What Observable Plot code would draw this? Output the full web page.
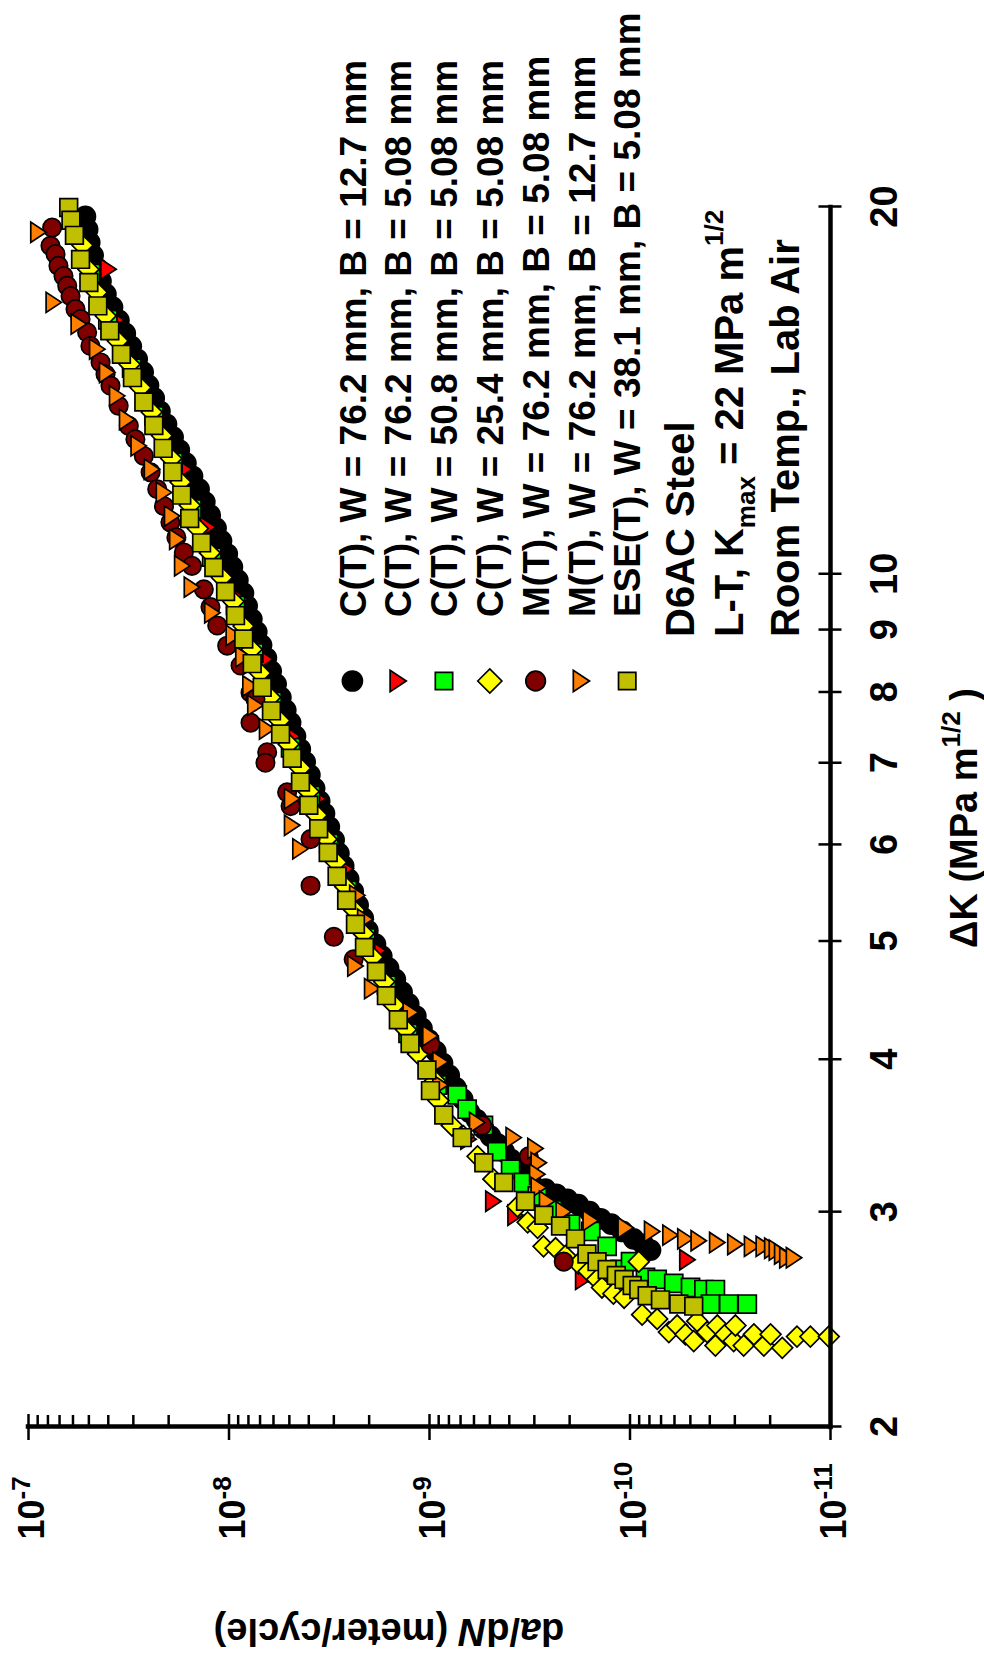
<!DOCTYPE html>
<html>
<head>
<meta charset="utf-8">
<script src="https://cdn.jsdelivr.net/npm/d3@7"></script>
<script src="https://cdn.jsdelivr.net/npm/@observablehq/plot@0.6"></script>
<style>
  html, body { margin: 0; padding: 0; background: #fff; }
  #page { position: relative; width: 984px; height: 1660px; overflow: hidden; background: #fff; }
  #page svg { position: absolute; left: 0; top: 0; transform-origin: 0 0;
              transform: translate(0px, 1660px) rotate(-90deg); }
</style>
</head>
<body>
<div id="page"></div>
<script>
// ---------------------------------------------------------------
// Fatigue crack growth rate data, D6AC steel (L-T, Kmax = 22 MPa m^1/2)
// dK in MPa m^1/2, rate (da/dN) in meter/cycle
// ---------------------------------------------------------------

// C(T), W = 76.2 mm, B = 12.7 mm
const ct762b127K = [19.63, 19.15, 18.69, 18.24, 17.80, 17.37, 16.95, 16.54, 16.13, 15.74, 15.36, 14.99, 14.63, 14.27, 13.93, 13.59, 13.26, 12.94, 12.63, 12.32, 12.02, 11.73, 11.45, 11.17, 10.90, 10.64, 10.38, 10.13, 9.88, 9.64,
  9.41, 9.18, 8.96, 8.74, 8.53, 8.32, 8.12, 7.92, 7.73, 7.55, 7.36, 7.18, 7.01, 6.84, 6.67, 6.51, 6.36, 6.20, 6.05, 5.90, 5.76, 5.62, 5.49, 5.35, 5.22, 5.10,
  4.97, 4.86, 4.75, 4.65, 4.54, 4.44, 4.34, 4.24, 4.15, 4.06, 3.97, 3.88, 3.79, 3.71, 3.62,
  3.57, 3.51, 3.46, 3.41, 3.36, 3.31, 3.26, 3.21, 3.16,
  3.13, 3.10, 3.07, 3.04, 3.00, 2.96, 2.93, 2.89, 2.85, 2.82, 2.79];
const ct762b127Rate = [5.20e-8, 5.07e-8, 4.95e-8, 4.76e-8, 4.54e-8, 4.35e-8, 4.11e-8, 3.81e-8, 3.54e-8, 3.29e-8, 3.07e-8, 2.87e-8, 2.68e-8, 2.52e-8, 2.36e-8, 2.21e-8, 2.05e-8, 1.90e-8, 1.77e-8, 1.64e-8, 1.52e-8, 1.41e-8, 1.32e-8, 1.24e-8, 1.16e-8, 1.09e-8, 1.02e-8, 9.62e-9, 9.03e-9, 8.47e-9,
  8.12e-9, 7.69e-9, 7.27e-9, 6.88e-9, 6.51e-9, 6.16e-9, 5.82e-9, 5.51e-9, 5.21e-9, 4.93e-9, 4.66e-9, 4.41e-9, 4.17e-9, 3.95e-9, 3.74e-9, 3.53e-9, 3.34e-9, 3.16e-9, 2.99e-9, 2.83e-9, 2.68e-9, 2.53e-9, 2.40e-9, 2.27e-9, 2.14e-9, 2.03e-9,
  1.86e-9, 1.73e-9, 1.60e-9, 1.48e-9, 1.37e-9, 1.27e-9, 1.17e-9, 1.09e-9, 1.01e-9, 9.30e-10, 8.61e-10, 7.97e-10, 7.38e-10, 6.83e-10, 6.32e-10,
  5.83e-10, 5.38e-10, 4.97e-10, 4.59e-10, 4.24e-10, 3.91e-10, 3.61e-10, 3.33e-10, 3.08e-10,
  2.64e-10, 2.33e-10, 2.05e-10, 1.81e-10, 1.59e-10, 1.40e-10, 1.24e-10, 1.09e-10, 9.60e-11, 8.57e-11, 7.90e-11];

// C(T), W = 76.2 mm, B = 5.08 mm
const ct762b508K = [17.77, 16.14, 14.91, 13.46, 12.18, 10.92, 9.53, 8.51, 7.36, 6.54, 5.73, 4.91, 4.24, 3.78, 3.44, 3.06, 2.98, 2.64, 2.74];
const ct762b508Rate = [3.99e-8, 3.64e-8, 3.03e-8, 2.25e-8, 1.67e-8, 1.27e-8, 8.76e-9, 6.58e-9, 4.82e-9, 3.58e-9, 2.62e-9, 1.80e-9, 1.24e-9, 8.81e-10, 6.39e-10, 4.80e-10, 3.72e-10, 1.71e-10, 5.17e-11];

// C(T), W = 50.8 mm, B = 5.08 mm
const ct508b508K = [17.63, 16.15, 14.74, 13.47, 12.34, 11.30, 10.32, 9.42, 8.61, 7.86, 7.20, 6.58, 6.01, 5.50, 5.03, 4.60, 4.20, 3.81,
  3.74, 3.64, 3.53, 3.36, 3.25, 3.17, 3.09, 3.01, 2.93, 2.89, 2.81, 2.69, 2.73, 2.65, 2.64, 2.62, 2.60, 2.59, 2.59, 2.52, 2.52, 2.52];
const ct508b508Rate = [4.90e-8, 4.02e-8, 3.06e-8, 2.37e-8, 1.90e-8, 1.53e-8, 1.22e-8, 9.28e-9, 7.52e-9, 6.09e-9, 4.93e-9, 3.92e-9, 3.18e-9, 2.57e-9, 2.08e-9, 1.64e-9, 1.28e-9, 9.15e-10,
  7.27e-10, 6.49e-10, 5.38e-10, 4.60e-10, 3.94e-10, 3.40e-10, 2.90e-10, 2.44e-10, 1.98e-10, 1.57e-10, 1.30e-10, 1.12e-10, 9.94e-11, 8.37e-11, 7.32e-11, 6.05e-11, 4.99e-11, 4.28e-11, 3.75e-11, 3.97e-11, 3.22e-11, 2.60e-11];

// C(T), W = 25.4 mm, B = 5.08 mm
const ct254b508K = [18.59, 17.76, 17.01, 16.27, 15.52, 14.85, 14.21, 13.57, 12.98, 12.43, 11.89, 11.38, 10.89, 10.40, 9.93, 9.49, 9.06, 8.67, 8.29, 7.92, 7.58, 7.25, 6.93, 6.63, 6.34, 6.06, 5.80, 5.54, 5.30, 5.07, 4.85, 4.63, 4.43, 4.23, 4.04, 3.84, 3.70, 3.53,
  3.46, 3.33, 3.19, 3.03, 2.94, 2.91, 2.81, 2.80, 2.76, 2.72, 2.68, 2.64, 2.60, 2.57, 2.55, 2.73, 2.47, 2.45, 2.39, 2.42, 2.38, 2.35, 2.44, 2.39, 2.33, 2.42, 2.38, 2.35, 2.42, 2.33, 2.38, 2.33, 2.38, 2.32, 2.37, 2.37, 2.37];
const ct254b508Rate = [5.38e-8, 5.02e-8, 4.56e-8, 4.12e-8, 3.59e-8, 3.13e-8, 2.76e-8, 2.43e-8, 2.16e-8, 1.94e-8, 1.745e-8, 1.568e-8, 1.43e-8, 1.246e-8, 1.085e-8, 9.50e-9, 8.46e-9, 7.70e-9, 6.99e-9, 6.23e-9, 5.60e-9, 5.04e-9, 4.41e-9, 4.01e-9, 3.65e-9, 3.26e-9, 2.92e-9, 2.63e-9, 2.37e-9, 2.13e-9, 1.92e-9, 1.68e-9, 1.50e-9, 1.31e-9, 1.14e-9, 9.37e-10, 9.02e-10, 7.74e-10,
  6.77e-10, 5.76e-10, 4.80e-10, 3.64e-10, 3.24e-10, 2.89e-10, 2.70e-10, 2.35e-10, 2.10e-10, 1.81e-10, 1.61e-10, 1.46e-10, 1.38e-10, 1.21e-10, 1.07e-10, 9.04e-11, 8.70e-11, 7.32e-11, 6.40e-11, 5.82e-11, 5.29e-11, 4.81e-11, 4.62e-11, 4.12e-11, 3.75e-11, 3.67e-11, 3.34e-11, 3.04e-11, 2.98e-11, 2.71e-11, 2.41e-11, 2.15e-11, 1.99e-11, 1.74e-11, 1.47e-11, 1.26e-11, 1.02e-11];

// M(T), W = 76.2 mm, B = 5.08 mm
const mt762b508K = [19.22, 18.57, 18.28, 17.88, 17.54, 17.22, 16.89, 16.48, 16.17, 15.77, 15.37, 14.90, 14.57, 14.26, 13.73, 13.22, 12.89, 12.49, 12.11, 11.73, 11.36, 11.02, 10.71, 10.41, 10.15, 9.71, 9.39, 9.07, 8.73, 8.41, 7.99, 7.89, 7.55, 7.14, 7.00, 6.62, 6.45, 6.06, 5.55, 5.04, 4.83, 4.11, 3.53, 3.33, 2.73];
const mt762b508Rate = [7.62e-8, 7.77e-8, 7.33e-8, 7.09e-8, 6.69e-8, 6.41e-8, 6.17e-8, 5.83e-8, 5.50e-8, 5.10e-8, 4.91e-8, 4.37e-8, 4.13e-8, 3.90e-8, 3.55e-8, 3.16e-8, 2.93e-8, 2.66e-8, 2.46e-8, 2.28e-8, 2.11e-8, 1.96e-8, 1.83e-8, 1.68e-8, 1.53e-8, 1.335e-8, 1.237e-8, 1.145e-8, 1.021e-8, 8.76e-9, 7.81e-9, 7.38e-9, 7.81e-9, 6.45e-9, 6.58e-9, 5.13e-9, 4.93e-9, 3.92e-9, 3.92e-9, 3.00e-9, 2.39e-9, 9.89e-10, 5.46e-10, 3.20e-10, 2.14e-10];

// M(T), W = 76.2 mm, B = 12.7 mm
const mt762b127K = [19.05, 16.69, 16.02, 15.28, 14.62, 13.99, 13.38, 12.73, 12.18, 11.66, 11.15, 10.67, 10.15, 9.75, 9.29, 8.90, 8.55, 8.09, 7.80, 7.46, 6.54, 6.22, 5.95, 5.45, 5.21, 4.77, 4.57, 4.37, 4.18, 3.98, 3.81, 3.55, 3.45, 3.38, 3.29, 3.22, 3.14, 3.06, 3.00, 2.95, 2.91, 2.89, 2.87, 2.85, 2.84, 2.83, 2.82, 2.81, 2.81, 2.80, 2.79, 2.77, 2.75, 2.75];
const mt762b127Rate = [8.92e-8, 7.48e-8, 5.61e-8, 4.54e-8, 4.05e-8, 3.61e-8, 3.22e-8, 2.82e-8, 2.42e-8, 2.11e-8, 1.92e-8, 1.81e-8, 1.71e-8, 1.53e-8, 1.21e-8, 9.46e-9, 8.47e-9, 7.81e-9, 7.38e-9, 6.45e-9, 4.84e-9, 4.84e-9, 4.40e-9, 2.29e-9, 2.09e-9, 2.34e-9, 1.93e-9, 1.24e-9, 9.89e-10, 8.81e-10, 8.81e-10, 5.78e-10, 3.80e-10, 2.96e-10, 2.85e-10, 2.90e-10, 2.85e-10, 2.59e-10, 2.14e-10, 1.57e-10, 1.05e-10, 7.75e-11, 6.28e-11, 5.29e-11, 4.54e-11, 3.67e-11, 2.98e-11, 2.46e-11, 2.15e-11, 1.95e-11, 1.85e-11, 1.74e-11, 1.64e-11, 1.52e-11];

// ESE(T), W = 38.1 mm, B = 5.08 mm
const ese381b508K = [19.96, 19.49, 18.94, 18.10, 17.33, 16.58, 15.82, 15.13, 14.48, 13.83, 13.23, 12.67, 12.12, 11.60, 11.10, 10.60, 10.12, 9.67, 9.24, 8.84, 8.44, 8.07, 7.72, 7.39, 7.06, 6.75, 6.46, 6.18, 5.91, 5.65, 5.40, 5.16, 4.94, 4.72, 4.51, 4.31, 4.12, 3.92, 3.77, 3.60, 3.45, 3.29, 3.17, 3.06, 2.98, 2.92, 2.85, 2.77, 2.73, 2.69, 2.66, 2.64, 2.61, 2.59, 2.56, 2.54, 2.52, 2.51];
const ese381b508Rate = [6.30e-8, 6.14e-8, 5.90e-8, 5.50e-8, 5.00e-8, 4.51e-8, 3.93e-8, 3.44e-8, 3.03e-8, 2.66e-8, 2.37e-8, 2.13e-8, 1.91e-8, 1.72e-8, 1.57e-8, 1.37e-8, 1.19e-8, 1.04e-8, 9.28e-9, 8.44e-9, 7.66e-9, 6.83e-9, 6.14e-9, 5.53e-9, 4.84e-9, 4.40e-9, 4.00e-9, 3.57e-9, 3.20e-9, 2.89e-9, 2.59e-9, 2.34e-9, 2.11e-9, 1.84e-9, 1.64e-9, 1.43e-9, 1.25e-9, 1.03e-9, 9.89e-10, 8.49e-10, 6.87e-10, 5.36e-10, 4.26e-10, 3.32e-10, 2.69e-10, 2.22e-10, 1.87e-10, 1.64e-10, 1.46e-10, 1.30e-10, 1.17e-10, 1.07e-10, 9.75e-11, 9.04e-11, 8.21e-11, 7.05e-11, 5.71e-11, 4.81e-11];

// Legend entries
const seriesLabels = [
  "C(T), W = 76.2 mm, B = 12.7 mm",
  "C(T), W = 76.2 mm, B = 5.08 mm",
  "C(T), W = 50.8 mm, B = 5.08 mm",
  "C(T), W = 25.4 mm, B = 5.08 mm",
  "M(T), W = 76.2 mm, B = 5.08 mm",
  "M(T), W = 76.2 mm, B = 12.7 mm",
  "ESE(T), W = 38.1 mm, B = 5.08 mm"
];
const seriesFills = ["#000000", "#ff0000", "#00ff00", "#ffff00", "#800000", "#ff8000", "#c0c000"];

// Axis ticks
const dKTicks = [2, 3, 4, 5, 6, 7, 8, 9, 10, 20];
const rateDecades = [1e-11, 1e-10, 1e-9, 1e-8, 1e-7];

// ---------------------------------------------------------------
const FONT = "'Liberation Sans', Arial, Helvetica, sans-serif";

// Triangle marker whose tip points toward larger screen-y (a right-pointing
// triangle once the whole figure is turned on the page).
const triangleDown = {
  draw(context, size) {
    const r = Math.sqrt(size / Math.PI);
    const h = 2.05 * r, b = 2.7 * r;
    context.moveTo(0, h / 2);
    context.lineTo(b / 2, -h / 2);
    context.lineTo(-b / 2, -h / 2);
    context.closePath();
  }
};

const seriesSymbols = ["circle", triangleDown, "square", "diamond2", "circle", triangleDown, "square"];
const seriesRadius = [10, 7.5, 10.2, 9.4, 9.2, 7.5, 10];

const seriesK = [ct762b127K, ct762b508K, ct508b508K, ct254b508K, mt762b508K, mt762b127K, ese381b508K];
const seriesRate = [ct762b127Rate, ct762b508Rate, ct508b508Rate, ct254b508Rate, mt762b508Rate, mt762b127Rate, ese381b508Rate];

const seriesRows = seriesK.map((ks, i) =>
  ks.slice(0, Math.min(ks.length, seriesRate[i].length)).map((k, j) => ({dK: k, rate: seriesRate[i][j]}))
);

// minor ticks on the rate axis (2..9 within each decade)
const rateMinor = [];
for (const d of rateDecades.slice(0, -1)) for (let m = 2; m <= 9; m++) rateMinor.push(m * d);

const axisStroke = 4.5;
const tickStroke = 2.5;

const marks = [];
// data series, first series underneath
seriesRows.forEach((rows, i) => {
  marks.push(Plot.dot(rows, {
    x: "dK", y: "rate",
    symbol: seriesSymbols[i], r: seriesRadius[i],
    fill: seriesFills[i], stroke: "#000", strokeWidth: 1.7
  }));
});

// axis lines
marks.push(Plot.ruleX([2], {x: d => d, y1: () => 1e-11, y2: () => 1e-7, stroke: "#000", strokeWidth: axisStroke, strokeLinecap: "square"}));
marks.push(Plot.ruleY([1e-11], {y: d => d, x1: () => 2, x2: () => 20, stroke: "#000", strokeWidth: axisStroke, strokeLinecap: "square"}));
// tick marks on the dK axis (crossing the line)
marks.push(Plot.ruleX(dKTicks, {x: d => d, y1: () => 1e-11, y2: () => 1e-11, insetTop: -11.5, insetBottom: -11.5, stroke: "#000", strokeWidth: tickStroke}));
// major and minor ticks on the rate axis
marks.push(Plot.ruleY(rateDecades, {y: d => d, x1: () => 2, x2: () => 2, insetLeft: -13, insetRight: -13, stroke: "#000", strokeWidth: tickStroke}));
marks.push(Plot.ruleY(rateMinor, {y: d => d, x1: () => 2, x2: () => 2, insetLeft: 0, insetRight: -12, stroke: "#000", strokeWidth: tickStroke}));
// tick labels
marks.push(Plot.axisX({ticks: dKTicks, tickFormat: d => String(d), tickSize: 0, tickPadding: 40, fontSize: 38, label: null}));
marks.push(Plot.axisY({ticks: rateDecades, tickFormat: d => String(Math.round(Math.log10(d))), tickSize: 0, tickPadding: 113, textAnchor: "start", dy: 4, fontSize: 36, label: null}));

const chart = Plot.plot({
  width: 1660,
  height: 984,
  marginLeft: 233,
  marginRight: 207,
  marginTop: 28,
  marginBottom: 154,
  x: {type: "log", domain: [2, 20]},
  y: {type: "log", domain: [1e-11, 1e-7]},
  style: {fontFamily: FONT, fontWeight: "bold", background: "white", overflow: "visible"},
  marks
});
chart.style.maxWidth = "none";
chart.style.width = "1660px";
chart.style.height = "984px";
chart.style.fontFamily = FONT;
chart.style.fontWeight = "bold";
chart.style.overflow = "visible";
document.getElementById("page").appendChild(chart);

const svg = d3.select(chart);

// rate tick labels as powers of ten
svg.selectAll('[aria-label="y-axis tick label"] text').each(function () {
  const exp = this.textContent.trim().replace("\u2212", "-");
  const t = d3.select(this);
  t.text(null);
  t.append("tspan").text("10");
  t.append("tspan").attr("font-size", 26).attr("dy", -14).text(exp);
});

const overlay = svg.append("g")
  .attr("font-family", FONT)
  .attr("font-weight", "bold")
  .attr("text-anchor", "start")
  .attr("fill", "#000");

function richText(g, x, y, parts, size, anchor, transform) {
  const t = g.append("text")
    .attr("font-size", size)
    .attr("text-anchor", anchor || "start");
  if (transform) t.attr("transform", transform);
  else t.attr("x", x).attr("y", y);
  for (const p of parts) {
    const s = t.append("tspan").text(p.t);
    if (p.size) s.attr("font-size", p.size);
    if (p.dy) s.attr("dy", p.dy);
    if (p.italic) s.attr("font-style", "italic");
  }
  return t;
}

// axis titles
richText(overlay, 842, 977, [
  {t: "\u0394K (MPa m"}, {t: "1/2", size: 26, dy: -17}, {t: " )", dy: 17}
], 38, "middle");
richText(overlay, 0, 0, [
  {t: "d"}, {t: "a", italic: true}, {t: "/d"}, {t: "N", italic: true}, {t: " (meter/cycle)"}
], 38, "middle", "translate(41,389) rotate(-90)");

// legend
const legendX = 979, legendTextX = 1043, legendY0 = 352.4, legendStep = 45.8;
const legendSize = [Math.PI * 100, Math.PI * 62, Math.PI * 96, Math.PI * 118, Math.PI * 96, Math.PI * 62, Math.PI * 96];
seriesLabels.forEach((label, i) => {
  const cy = legendY0 + i * legendStep;
  const sym = typeof seriesSymbols[i] === "string"
    ? {circle: d3.symbolCircle, square: d3.symbolSquare, diamond2: d3.symbolDiamond2}[seriesSymbols[i]]
    : seriesSymbols[i];
  overlay.append("path")
    .attr("transform", `translate(${legendX},${cy})`)
    .attr("d", d3.symbol(sym, legendSize[i])())
    .attr("fill", seriesFills[i])
    .attr("stroke", "#000")
    .attr("stroke-width", 1.7);
  overlay.append("text")
    .attr("x", legendTextX)
    .attr("y", cy + 13.2)
    .attr("font-size", 37)
    .attr("text-anchor", "start")
    .text(label);
});

// specimen / test conditions
richText(overlay, 1023, 694, [{t: "D6AC Steel"}], 40);
richText(overlay, 1023, 743, [
  {t: "L-T, K"}, {t: "max", size: 26, dy: 12}, {t: " = 22 MPa m", dy: -12}, {t: "1/2", size: 26, dy: -20}
], 40);
richText(overlay, 1023, 799, [{t: "Room Temp., Lab Air"}], 40);
</script>
</body>
</html>
